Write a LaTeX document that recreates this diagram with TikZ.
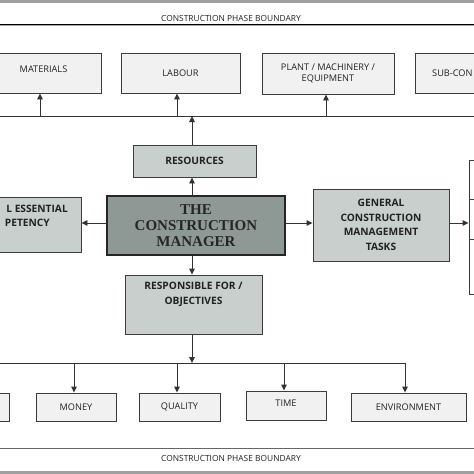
\documentclass[tikz,border=0pt]{standalone}
\usepackage{fontspec}
\setmainfont{Open Sans}
\newfontfamily\mgrfont{Liberation Serif}
\usetikzlibrary{arrows.meta}
\definecolor{lightbox}{HTML}{F1F1F1}
\definecolor{midbox}{HTML}{C9CFCD}
\definecolor{darkbox}{HTML}{8E9996}
\definecolor{edge}{HTML}{3C3C3C}
\definecolor{txt}{HTML}{222222}
\definecolor{barg}{HTML}{A0A0A0}
\tikzset{
  plainbox/.style={draw=edge, line width=0.9pt, fill=lightbox, inner sep=0pt, text=txt,
     font=\fontsize{9.2}{12}\selectfont, align=center},
  midboxst/.style={draw=edge, line width=0.9pt, fill=midbox, inner sep=0pt, text=txt,
     font=\bfseries\fontsize{10.2}{14.5}\selectfont, align=center},
  mgrbox/.style={draw=black!85, line width=1.6pt, fill=darkbox, inner sep=0pt, text=black!85,
     font=\mgrfont\bfseries\fontsize{15}{16}\selectfont, align=center},
  conn/.style={draw=black!80, line width=0.9pt},
  arr/.style={conn, -{Triangle[length=6pt,width=5.5pt]}},
  boundtext/.style={font=\fontsize{8.4}{10}\selectfont, text=txt, inner sep=0pt},
  lbl/.style={inner sep=0pt, text=txt, align=center}
}
\begin{document}
\begin{tikzpicture}[x=1pt,y=-1pt]
\useasboundingbox (0,0) rectangle (474,474);
\clip (0,0) rectangle (474,474);
\fill[white] (0,0) rectangle (474,474);
% grey bars
\fill[barg] (0,0) rectangle (474,2.5);
\fill[barg] (0,471) rectangle (474,474);
% boundary lines
\coordinate (tbL) at (0,24); \coordinate (tbR) at (474,24);
\draw[black, line width=1pt] (tbL) -- (tbR);
\draw[black!35, line width=0.6pt] (0,25.6) -- (474,25.6);
\node[boundtext] (tbt) at (231,18) {CONSTRUCTION PHASE BOUNDARY};
\coordinate (bbL) at (0,448); \coordinate (bbR) at (474,448);
\draw[black!60, line width=0.9pt] (bbL) -- (bbR);
\node[boundtext] (bbt) at (231,458) {CONSTRUCTION PHASE BOUNDARY};

% top row
\node[plainbox, minimum width=115pt, minimum height=40pt] (mat) at (43.5,73) {};
\node[lbl, font=\fontsize{9.2}{12}\selectfont] (matt) at (43.5,69.5) {MATERIALS};
\node[plainbox, minimum width=119pt, minimum height=40pt] (lab) at (180.5,73) {LABOUR};
\node[plainbox, minimum width=132pt, minimum height=41pt] (plant) at (328,73.5) {PLANT / MACHINERY /\\[-1pt] EQUIPMENT};
\node[plainbox, minimum width=125pt, minimum height=40pt] (sub) at (477.5,73) {};
\node[lbl, anchor=west, font=\fontsize{9.2}{12}\selectfont] (subt) at (432,73) {SUB-CON};

% top bus
\coordinate (busL) at (0,116); \coordinate (busR) at (474,116);
\draw[conn] (busL) -- (busR);
\coordinate (u1) at (40,116); \coordinate (u2) at (177,116); \coordinate (u3) at (326,116);
\draw[arr] (u1) -- (u1 |- mat.south);
\draw[arr] (u2) -- (u2 |- lab.south);
\draw[arr] (u3) -- (u3 |- plant.south);

% middle
\node[midboxst, minimum width=123pt, minimum height=32pt] (res) at (194.5,161) {RESOURCES};
\node[mgrbox, minimum width=178pt, minimum height=59pt] (mgr) at (196,225.5) {THE\\CONSTRUCTION\\MANAGER};
\node[midboxst, minimum width=121pt, minimum height=55pt] (pec) at (20.5,224.5) {};
\node[lbl, anchor=east, font=\bfseries\fontsize{10.2}{14.5}\selectfont] (pect1) at (68,209) {L ESSENTIAL};
\node[lbl, anchor=east, font=\bfseries\fontsize{10.2}{14.5}\selectfont] (pect2) at (50,223) {PETENCY};
\node[midboxst, minimum width=136pt, minimum height=72pt] (gcm) at (381,225) {GENERAL\\CONSTRUCTION\\MANAGEMENT\\TASKS};
\node[draw=edge, line width=0.9pt, fill=white, minimum width=51pt, minimum height=39pt, inner sep=0pt] (r1) at (494.5,179.5) {};
\node[draw=edge, line width=0.9pt, fill=white, minimum width=51pt, minimum height=40pt, inner sep=0pt] (r2) at (494.5,219) {};
\node[draw=edge, line width=0.9pt, fill=white, minimum width=51pt, minimum height=55pt, inner sep=0pt] (r3) at (494.5,266.5) {};
\node[midboxst, minimum width=137pt, minimum height=59pt] (resp) at (193.5,304.5) {};
\node[lbl, font=\bfseries\fontsize{10.2}{14.5}\selectfont] (respt) at (193.5,294.5) {RESPONSIBLE FOR /\\OBJECTIVES};

\coordinate (rx) at (192,116);
\draw[arr] (rx |- res.north) -- (rx);
\draw[arr] (rx |- mgr.north) -- (rx |- res.south);
\draw[arr] (rx |- mgr.south) -- (rx |- resp.north);
\draw[arr] (mgr.west |- 0,223) -- (pec.east |- 0,223);
\draw[arr] (mgr.east |- 0,223) -- (gcm.west |- 0,223);
\draw[arr] (gcm.east |- 0,223) -- (r2.west |- 0,223);

% bottom bus
\coordinate (bb) at (192,363);
\draw[arr] (rx |- resp.south) -- (bb);
\coordinate (bbusL) at (0,363); \coordinate (bbusR) at (405,363);
\draw[conn] (bbusL) -- (bbusR);

% bottom row
\node[plainbox, minimum width=49pt, minimum height=28pt] (bl) at (-15.5,407) {};
\node[plainbox, minimum width=80pt, minimum height=28pt] (money) at (76,407) {MONEY};
\node[plainbox, minimum width=81pt, minimum height=28pt] (qual) at (179.5,407) {QUALITY};
\node[plainbox, minimum width=80pt, minimum height=29pt] (time) at (286,405.5) {};
\node[lbl, font=\fontsize{9.2}{12}\selectfont] (timet) at (286,403) {TIME};
\node[plainbox, minimum width=115pt, minimum height=28pt] (env) at (408.5,407) {ENVIRONMENT};
\coordinate (d1) at (74,363); \coordinate (d2) at (177,363); \coordinate (d3) at (284,363); \coordinate (d4) at (405,363);
\draw[arr] (d1) -- (d1 |- money.north);
\draw[arr] (d2) -- (d2 |- qual.north);
\draw[arr] (d3) -- (d3 |- time.north);
\draw[arr] (d4) -- (d4 |- env.north);
\end{tikzpicture}
\end{document}
